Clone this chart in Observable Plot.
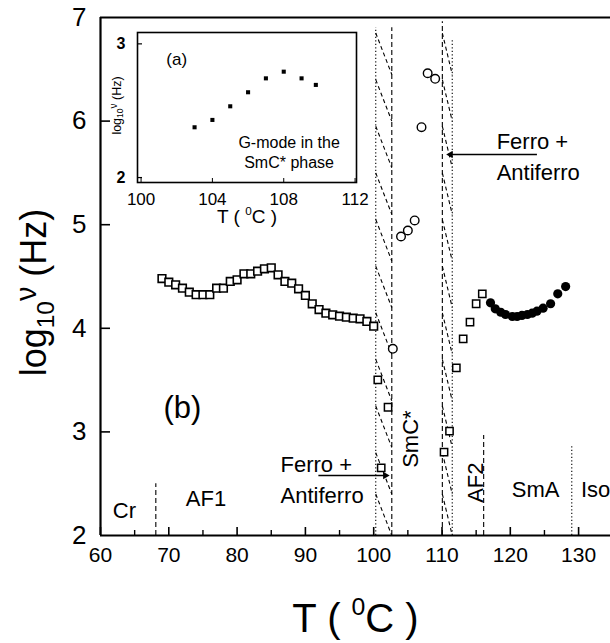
<!DOCTYPE html>
<html><head><meta charset="utf-8">
<script src="https://cdn.jsdelivr.net/npm/d3@7"></script>
<script src="https://cdn.jsdelivr.net/npm/@observablehq/plot@0.6"></script>
<style>
body{margin:0;background:#fff;}
#wrap{position:relative;width:610px;height:643px;overflow:hidden;}
#wrap svg{position:absolute;left:0;top:0;}
</style></head><body><div id="wrap"></div>
<script>
// ---------- data ----------
const af1T = [69,70,71,72,73,74,75,76,77,78,79,80,81,82,83,84,85,86,87,88,89,90,91,92,93,94,95,96,97,98,99,100];
const af1V = [4.48,4.445,4.42,4.387,4.349,4.324,4.324,4.324,4.387,4.387,4.452,4.468,4.526,4.526,4.551,4.574,4.584,4.516,4.452,4.435,4.381,4.317,4.236,4.181,4.146,4.130,4.117,4.107,4.098,4.092,4.066,4.020];
const sqT = [100.6,101.1,102.1,110.3,111.1,112.1,113.1,114.1,115.0,115.9];
const sqV = [3.503,2.653,3.238,2.804,3.007,3.619,3.899,4.060,4.237,4.333];
const smcT = [102.8,104.0,105.0,106.0,107.0,107.9,109.0];
const smcV = [3.802,4.886,4.944,5.041,5.941,6.462,6.408];
const smaT = [117.1,117.8,118.6,119.3,120.3,121.0,121.7,122.5,123.2,123.9,124.8,125.9,126.95,128.1];
const smaV = [4.246,4.188,4.155,4.133,4.114,4.114,4.124,4.133,4.146,4.165,4.194,4.237,4.333,4.403];
const insetT = [103,104,105,106,107,108,109,109.8];
const insetV = [2.376,2.431,2.533,2.638,2.742,2.792,2.742,2.693];

const xTicks = [60,70,80,90,100,110,120,130];
const xMinor = [65,75,85,95,105,115,125];
const yTicks = [2,3,4,5,6,7];
const yTickMarks = [3,4,5,6];
const insetXTicks = [100,104,108,112];
const insetYTicks = [2,3];

const boundaryT = [68.1,100.3,102.65,110.05,111.5,116.1,129.0];
const boundaryTop = [2.5,6.9,6.9,6.96,6.78,2.965,2.87];
const boundaryKind = ["dash","dot","dash","dash","dot","dash","dot"];
const hatchBands = [[100.3,102.65],[110.05,111.5]];
const hatchStarts = [6.85,6.4,5.95,5.5,5.05,4.6,4.15,3.7,3.25,2.8,2.4];

const labelText = ["Cr","AF1","(b)","SmA","Iso"];
const labelT = [63.5,75.45,72.0,123.7,132.5];
const labelV = [2.24,2.35,3.23,2.444,2.444];
const labelSize = [22,22,31,22,22];
const rotText = ["SmC*","AF2"];
const rotT = [105.5,114.9];
const rotV = [2.93,2.51];
const noteText = ["Ferro +","Antiferro","Ferro +","Antiferro"];
const noteT = [86.35,86.35,118.0,118.0];
const noteV = [2.685,2.386,5.80,5.50];
const arrowFrom = [[91.9,2.579],[123.9,5.678]];
const arrowTo = [[101.7,2.579],[111.25,5.678]];
const arrowDir = [90,-90];

const FONT = "'Liberation Sans', Arial, sans-serif";
const rows = (T, V) => T.map((t, i) => ({t, v: V[i]}));

const boundaries = boundaryT.map((t, i) => ({t, top: boundaryTop[i], kind: boundaryKind[i]}));
const hatches = hatchBands.flatMap(([a, b]) => hatchStarts.map(s => ({x1: a, x2: b, y1: s, y2: Math.max(2, s - 0.4)})));
const arrows = arrowFrom.map((a, i) => ({x1: a[0], y1: a[1], x2: arrowTo[i][0], y2: arrowTo[i][1], rot: arrowDir[i]}));

const main = Plot.plot({
  width: 610, height: 643,
  marginLeft: 100, marginRight: 0, marginTop: 17, marginBottom: 108,
  style: {fontFamily: FONT, background: "white", color: "black"},
  x: {domain: [60, 60 + 510 / 6.83]},
  y: {domain: [2, 7]},
  marks: [
    Plot.ruleX(boundaries.filter(d => d.kind === "dash"), {x: "t", y1: 2, y2: "top", strokeWidth: 1.1, strokeDasharray: "5,3"}),
    Plot.ruleX(boundaries.filter(d => d.kind === "dot"), {x: "t", y1: 2, y2: "top", strokeWidth: 1.1, strokeDasharray: "1.2,2.3"}),
    Plot.link(hatches, {x1: "x1", y1: "y1", x2: "x2", y2: "y2", strokeWidth: 1.1, strokeDasharray: "4,3"}),
    Plot.ruleY([2, 7], {strokeWidth: 2.2}),
    Plot.ruleX([60], {strokeWidth: 2.2}),
    Plot.ruleX(xTicks, {y1: 2, y2: 2 + 8 / 103.6, strokeWidth: 1.6}),
    Plot.ruleX(xMinor, {y1: 2, y2: 2 + 5 / 103.6, strokeWidth: 1.4}),
    Plot.ruleY(yTickMarks, {x1: 60, x2: 60 + 10 / 6.83, strokeWidth: 1.6}),
    Plot.axisX({ticks: xTicks, tickFormat: d => String(d), tickSize: 0, tickPadding: 12, fontSize: 21, label: null}),
    Plot.axisY({ticks: yTicks, tickFormat: d => String(d), tickSize: 0, tickPadding: 14, fontSize: 26, label: null}),
    Plot.text(["XLABEL"], {frameAnchor: "bottom", textAnchor: "middle", dy: 96, fontSize: 40, letterSpacing: 4}),
    Plot.text(["YLABEL"], {frameAnchor: "left", textAnchor: "middle", dx: -66, dy: 16, rotate: -90, fontSize: 36, letterSpacing: 1.2}),
    Plot.dot(rows(af1T, af1V), {x: "t", y: "v", symbol: "square", r: 4.3, stroke: "black", fill: "white", strokeWidth: 1.6}),
    Plot.dot(rows(sqT, sqV), {x: "t", y: "v", symbol: "square", r: 4.1, stroke: "black", fill: "white", strokeWidth: 1.5}),
    Plot.dot(rows(smcT, smcV), {x: "t", y: "v", r: 4.3, stroke: "black", fill: "white", strokeWidth: 1.4}),
    Plot.dot(rows(smaT, smaV), {x: "t", y: "v", r: 4.6, fill: "black"}),
    Plot.text(labelText.map((s, i) => ({s, t: labelT[i], v: labelV[i], f: labelSize[i]})), {x: "t", y: "v", text: "s", fontSize: d => d.f}),
    Plot.text(rotText.map((s, i) => ({s, t: rotT[i], v: rotV[i]})), {x: "t", y: "v", text: "s", rotate: -90, fontSize: 22}),
    Plot.text(noteText.map((s, i) => ({s, t: noteT[i], v: noteV[i]})), {x: "t", y: "v", text: "s", textAnchor: "start", fontSize: 22}),
    Plot.link(arrows, {x1: "x1", y1: "y1", x2: "x2", y2: "y2", strokeWidth: 1.5}),
    Plot.dot(arrows, {x: "x2", y: "y2", symbol: "triangle2", r: 3.6, fill: "black", rotate: "rot"})
  ]
});

const inset = Plot.plot({
  width: 610, height: 250,
  marginLeft: 137, marginRight: 254, marginTop: 32, marginBottom: 68,
  style: {fontFamily: FONT, background: "none", color: "black"},
  x: {domain: [99.8, 112.08]},
  y: {domain: [1.963, 3.085]},
  marks: [
    Plot.frame({strokeWidth: 1.6}),
    Plot.ruleX(insetXTicks, {y1: 1.963, y2: 1.963 + 4 / 133.7, strokeWidth: 1}),
    Plot.ruleY(insetYTicks, {x1: 99.8, x2: 99.8 + 5 / 17.83, strokeWidth: 1.2}),
    Plot.axisX({ticks: insetXTicks, tickFormat: d => String(d), tickSize: 0, tickPadding: 10, fontSize: 17, label: null}),
    Plot.axisY({ticks: insetYTicks, tickFormat: d => String(d), tickSize: 0, tickPadding: 12, fontSize: 16, fontWeight: "bold", label: null}),
    Plot.dot(rows(insetT, insetV), {x: "t", y: "v", symbol: "square", r: 2.3, fill: "black"}),
    Plot.text(["(a)"], {x: 102.0, y: 2.883, fontSize: 17}),
    Plot.text(["G-mode in the", "SmC* phase"], {x: 108.3, y: (d, i) => [2.258, 2.108][i], fontSize: 16}),
    Plot.text(["IXLABEL"], {frameAnchor: "bottom", textAnchor: "middle", dy: 40, fontSize: 19, letterSpacing: 1}),
    Plot.text(["IYLABEL"], {frameAnchor: "left", textAnchor: "middle", dx: -21, dy: -2, rotate: -90, fontSize: 12.5})
  ]
});

const wrap = document.getElementById("wrap");
wrap.append(main, inset);

const NS = "http://www.w3.org/2000/svg";
function rich(el, parts) {
  el.textContent = "";
  for (const [s, dy, size] of parts) {
    const t = document.createElementNS(NS, "tspan");
    t.textContent = s;
    if (dy) t.setAttribute("dy", dy);
    if (size) t.setAttribute("font-size", size);
    el.appendChild(t);
  }
}
function degLabel(F) {
  return [["T ( ", null, null], ["0", -0.42 * F, 0.62 * F], ["C )", 0.42 * F, null]];
}
function logLabel(F) {
  return [["log", null, null], ["10", 0.22 * F, 0.68 * F], ["ν", -0.5 * F, 0.8 * F], [" (Hz)", 0.28 * F, null]];
}
for (const svg of [main, inset]) {
  svg.querySelectorAll("text").forEach(el => {
    const s = el.textContent;
    if (s === "XLABEL") rich(el, degLabel(40));
    else if (s === "YLABEL") rich(el, logLabel(36));
    else if (s === "IXLABEL") rich(el, degLabel(19));
    else if (s === "IYLABEL") rich(el, logLabel(12.5));
  });
}
</script></body></html>
